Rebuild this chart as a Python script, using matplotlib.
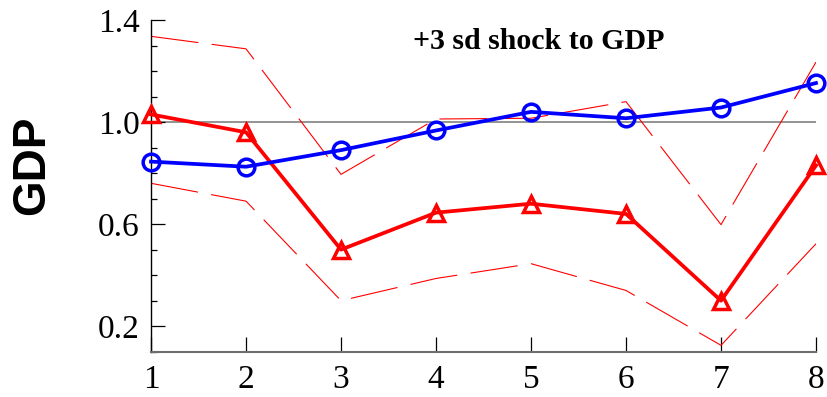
import matplotlib
matplotlib.use("Agg")
import matplotlib.pyplot as plt
from matplotlib.ticker import MultipleLocator, FixedLocator

horizon = [1, 2, 3, 4, 5, 6, 7, 8]
gdp_red = [1.03, 0.96, 0.50, 0.645, 0.68, 0.64, 0.30, 0.83]
gdp_blue = [0.845, 0.825, 0.89, 0.967, 1.04, 1.015, 1.057, 1.153]
band_upper = [1.336, 1.287, 0.795, 1.012, 1.015, 1.08, 0.598, 1.235]
band_lower = [0.76, 0.69, 0.30, 0.387, 0.445, 0.34, 0.125, 0.523]
baseline = 1.0

fig = plt.figure(figsize=(8.28, 3.97), dpi=100)
ax = fig.add_axes([0.1824, 0.1141, 0.8031, 0.8355])

ax.axhline(baseline, color="#808080", lw=1.2, zorder=1)
ax.plot(horizon, band_upper, color="red", lw=0.8, dashes=(43, 12), zorder=2)
ax.plot(horizon, band_lower, color="red", lw=0.8, dashes=(43, 12), zorder=2)
ax.plot(horizon, gdp_red, color="red", lw=2.7, marker="^", markersize=12,
        markerfacecolor="none", markeredgewidth=2.5, clip_on=False, zorder=3)
ax.plot(horizon, gdp_blue, color="blue", lw=2.7, marker="o", markersize=12,
        markerfacecolor="none", markeredgewidth=2.5, clip_on=False, zorder=4)

ax.set_xlim(1, 8)
ax.set_ylim(0.1, 1.4)
ax.xaxis.set_major_locator(FixedLocator(horizon))
ax.yaxis.set_major_locator(FixedLocator([0.2, 0.6, 1.0, 1.4]))
ax.yaxis.set_minor_locator(MultipleLocator(0.1))
ax.set_yticklabels(["0.2", "0.6", "1.0", "1.4"])

for side in ["top", "right"]:
    ax.spines[side].set_visible(False)
ax.spines["left"].set_color("black")
ax.spines["left"].set_linewidth(1.0)
ax.spines["bottom"].set_color("#6e6e6e")
ax.spines["bottom"].set_linewidth(1.5)

ax.tick_params(axis="y", which="major", direction="in", length=10, width=0.9, pad=8)
ax.tick_params(axis="y", which="minor", direction="in", length=4.5, width=0.9)
ax.tick_params(axis="x", which="major", direction="in", length=11, width=0.9, pad=9)
for lab in ax.get_xticklabels() + ax.get_yticklabels():
    lab.set_fontfamily("Liberation Serif")
    lab.set_fontsize(24)

ax.text(0.583, 0.935, "+3 sd shock to GDP", transform=ax.transAxes,
        ha="center", va="center", fontsize=21.5, fontweight="bold",
        family="Liberation Serif")

fig.text(0.039, 0.585, "GDP", rotation=90, ha="center", va="center",
         fontsize=33, fontweight="bold", family="Liberation Sans")

fig.savefig("out.png", dpi=100)
